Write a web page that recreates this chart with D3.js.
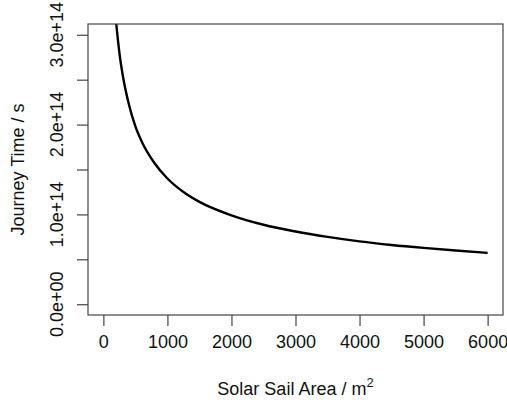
<!DOCTYPE html>
<html>
<head>
<meta charset="utf-8">
<script src="https://cdn.jsdelivr.net/npm/d3@7"></script>
<style>
  body { margin: 0; background: #fff; }
  text { font-family: "Liberation Sans", Arial, sans-serif; fill: #111; }
</style>
</head>
<body>
<svg id="chart" width="507" height="400"></svg>
<script>
// values (area in m^2, time in units of 1e14 s)
var areas = [200, 250, 300, 400, 500, 600, 800, 1000, 1250, 1500, 2000, 2500, 3000, 3500, 4000, 4500, 5000, 5500, 6000];
var times = [3.13, 2.80, 2.56, 2.22, 1.98, 1.81, 1.57, 1.40, 1.25, 1.14, 0.99, 0.885, 0.81, 0.75, 0.70, 0.66, 0.627, 0.598, 0.572];
var xTicks = [0, 1000, 2000, 3000, 4000, 5000, 6000];
var yTicks = [0, 0.5, 1, 1.5, 2, 2.5, 3];
var yLabels = ["0.0e+00", "1.0e+14", "2.0e+14", "3.0e+14"];

var svg = d3.select("#chart");
var box = { left: 88, right: 503, top: 24, bottom: 315 };
var fs = 18;

var x = d3.scaleLinear().domain([-240, 6240]).range([box.left, box.right]);
var y = d3.scaleLinear().domain([-0.12, 3.12]).range([box.bottom, box.top]);

svg.append("defs").append("clipPath").attr("id", "clip")
  .append("rect")
    .attr("x", box.left).attr("y", box.top)
    .attr("width", box.right - box.left).attr("height", box.bottom - box.top);

var data = areas.map(function(a, i) { return [a, times[i]]; });

var line = d3.line()
  .x(function(d) { return x(d[0]); })
  .y(function(d) { return y(d[1]); })
  .curve(d3.curveMonotoneX);

svg.append("path")
  .datum(data)
  .attr("clip-path", "url(#clip)")
  .attr("d", line)
  .attr("fill", "none")
  .attr("stroke", "#000")
  .attr("stroke-width", 2.4);

// plot frame
svg.append("rect")
  .attr("x", box.left).attr("y", box.top)
  .attr("width", box.right - box.left).attr("height", box.bottom - box.top)
  .attr("fill", "none").attr("stroke", "#444").attr("stroke-width", 1.2);

// x axis (R style: detached, no domain line)
var xAxis = d3.axisBottom(x).tickValues(xTicks).tickSize(11).tickPadding(9).tickFormat(d3.format("d"));
var gx = svg.append("g").attr("transform", "translate(0," + box.bottom + ")").call(xAxis);
gx.select(".domain").remove();
gx.selectAll("line").attr("stroke", "#444").attr("stroke-width", 1.2);
gx.selectAll("text").attr("font-size", fs).style("font-family", "Liberation Sans, Arial, sans-serif").attr("fill", "#111");

var yAxis = d3.axisLeft(y).tickValues(yTicks).tickSize(11).tickFormat("");
var gy = svg.append("g").attr("transform", "translate(" + box.left + ",0)").call(yAxis);
gy.select(".domain").remove();
gy.selectAll("line").attr("stroke", "#444").attr("stroke-width", 1.2);

svg.selectAll(".ylab")
  .data([0, 1, 2, 3])
  .enter().append("text")
    .attr("class", "ylab")
    .attr("transform", function(d) { return "translate(63," + y(d) + ") rotate(-90)"; })
    .attr("text-anchor", "middle")
    .attr("font-size", fs)
    .text(function(d, i) { return yLabels[i]; });

// axis titles
var xt = svg.append("text")
  .attr("x", (box.left + box.right) / 2)
  .attr("y", 395)
  .attr("text-anchor", "middle")
  .attr("font-size", fs);
xt.append("tspan").text("Solar Sail Area / m");
xt.append("tspan").attr("dy", -8).attr("font-size", 13).text("2");

svg.append("text")
  .attr("transform", "translate(24," + (box.top + box.bottom) / 2 + ") rotate(-90)")
  .attr("text-anchor", "middle")
  .attr("font-size", fs)
  .text("Journey Time / s");
</script>
</body>
</html>
